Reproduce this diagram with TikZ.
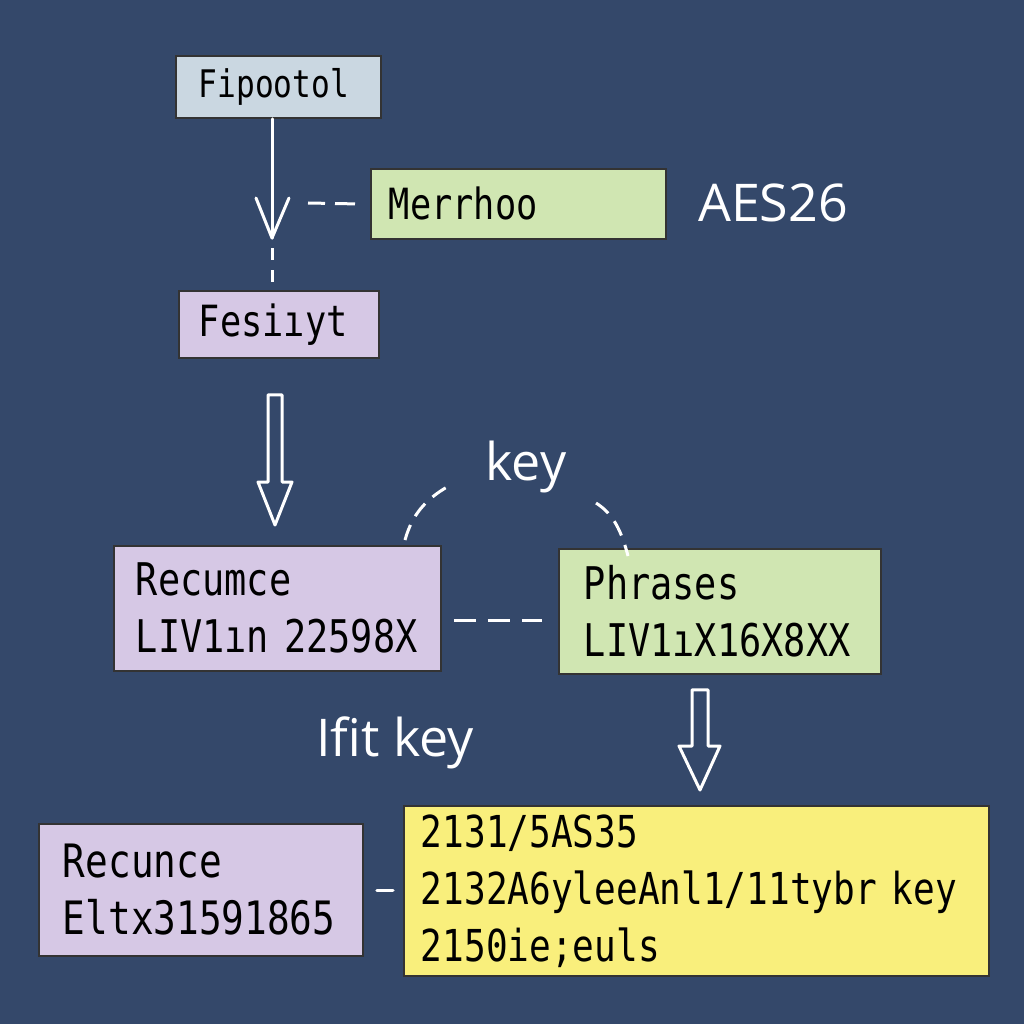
\documentclass[tikz,border=0pt]{standalone}
\usepackage{fontspec}
\setmainfont{Open Sans}
\newfontfamily\boxfont[FakeStretch=0.82]{DejaVu Sans Mono}
\definecolor{bg}{RGB}{52,72,106}
\definecolor{bluebox}{RGB}{202,215,225}
\definecolor{greenbox}{RGB}{208,230,178}
\definecolor{purplebox}{RGB}{214,200,229}
\definecolor{yellowbox}{RGB}{249,239,124}
\begin{document}
\begin{tikzpicture}[x=1pt,y=-1pt,
  box/.style={draw=black!80, line width=1.8pt, anchor=north west, inner ysep=0pt, align=left, text=black},
  fs/.style={font=\boxfont\fontsize{#1}{57}\selectfont},
  lbl/.style={text=white, font=\fontsize{52}{60}\selectfont, inner sep=0pt},
  wline/.style={white, line width=3pt, line cap=round, line join=round},
  dsh/.style={white, line width=3pt, dash pattern=on 20pt off 10pt},
  hollow/.style={draw=white, line width=3pt, line join=round}]
\fill[bg] (0,0) rectangle (1024,1024);
\useasboundingbox (0,0) rectangle (1024,1024);

% boxes
\node[box, fill=bluebox, fs=38, minimum width=205pt, minimum height=62pt, inner xsep=23pt, text width=159pt] (fip) at (175,55) {Fipootol};
\node[box, fill=greenbox, fs=43, minimum width=295pt, minimum height=70pt, inner xsep=18pt, text width=259pt] (mer) at (370,168) {Merrhoo};
\node[box, fill=purplebox, fs=43, minimum width=200pt, minimum height=67pt, inner xsep=20pt, text width=160pt] (fes) at (178,290) {Fesiıyt};
\node[box, fill=purplebox, fs=45, minimum width=327pt, minimum height=125pt, inner xsep=22pt, text width=283pt] (rec) at (113,545) {Recumce\\LIV1ın~22598X};
\node[box, fill=greenbox, fs=45, minimum width=322pt, minimum height=125pt, inner xsep=25pt, text width=272pt] (phr) at (558,548) {Phrases\\LIV1ıX16X8XX};
\node[box, fill=purplebox, fs=46, minimum width=324pt, minimum height=132pt, inner xsep=24pt, text width=276pt] (rec2) at (38,823) {Recunce\\Eltx31591865};
\node[box, fill=yellowbox, fs=44, minimum width=585pt, minimum height=170pt, inner xsep=17pt, text width=551pt] (yel) at (403,805) {2131/5AS35\\2132A6yleeAnl1/11tybr~key\\2150ie;euls};

% labels
\node[lbl] (aes) at (773,203) {AES26};
\node[lbl] (key) at (526,467) {key};
\node[lbl] (ifk) at (395,743) {Ifit key};

% arrow Fipootol -> Fesiyt
\coordinate (a1) at (272,238);
\draw[wline] (fip.south -| a1) -- (a1);
\draw[wline] (256,198) -- (a1) -- (289,198);
\draw[white, line width=3pt, dash pattern=on 12pt off 10pt] ([yshift=12pt]a1) -- (a1 |- fes.north);
\coordinate (m1) at (308,203);
\draw[dsh] ([xshift=-15pt]mer.west) -- (m1);

% hollow arrow Fesiyt -> Recumce
\coordinate (h1) at (275,525);
\draw[hollow] (fes.south -| h1) ++(-7,36) -- ++(14,0) -- (282,482) -- (292,482) -- (h1) -- (258,482) -- (268,482) -- cycle;

% dashed arc over "key"
\draw[dsh, dash pattern=on 16pt off 10pt] (rec.north -| 405,0) ++(0,-5) .. controls (412,515) and (425,500) .. (447,487);
\draw[dsh, dash pattern=on 16pt off 10pt] (596,503) .. controls (610,512) and (620,525) .. ([yshift=-8pt]phr.north -| 628,0);

% dashed link Recumce -- Phrases
\draw[dsh, dash pattern=on 22pt off 12pt] ([xshift=12pt]rec.east |- 0,620) -- ([xshift=-16pt]phr.west |- 0,620);

% hollow arrow Phrases -> yellow
\coordinate (h2) at (700,790);
\draw[hollow] (phr.south -| h2) ++(-8,15) -- ++(16,0) -- (708,746) -- (720,746) -- (h2) -- (679,746) -- (692,746) -- cycle;

% small dash Recunce -- yellow
\draw[wline] ([xshift=13pt]rec2.east |- 0,890) -- ([xshift=-10pt]yel.west |- 0,890);
\end{tikzpicture}
\end{document}
